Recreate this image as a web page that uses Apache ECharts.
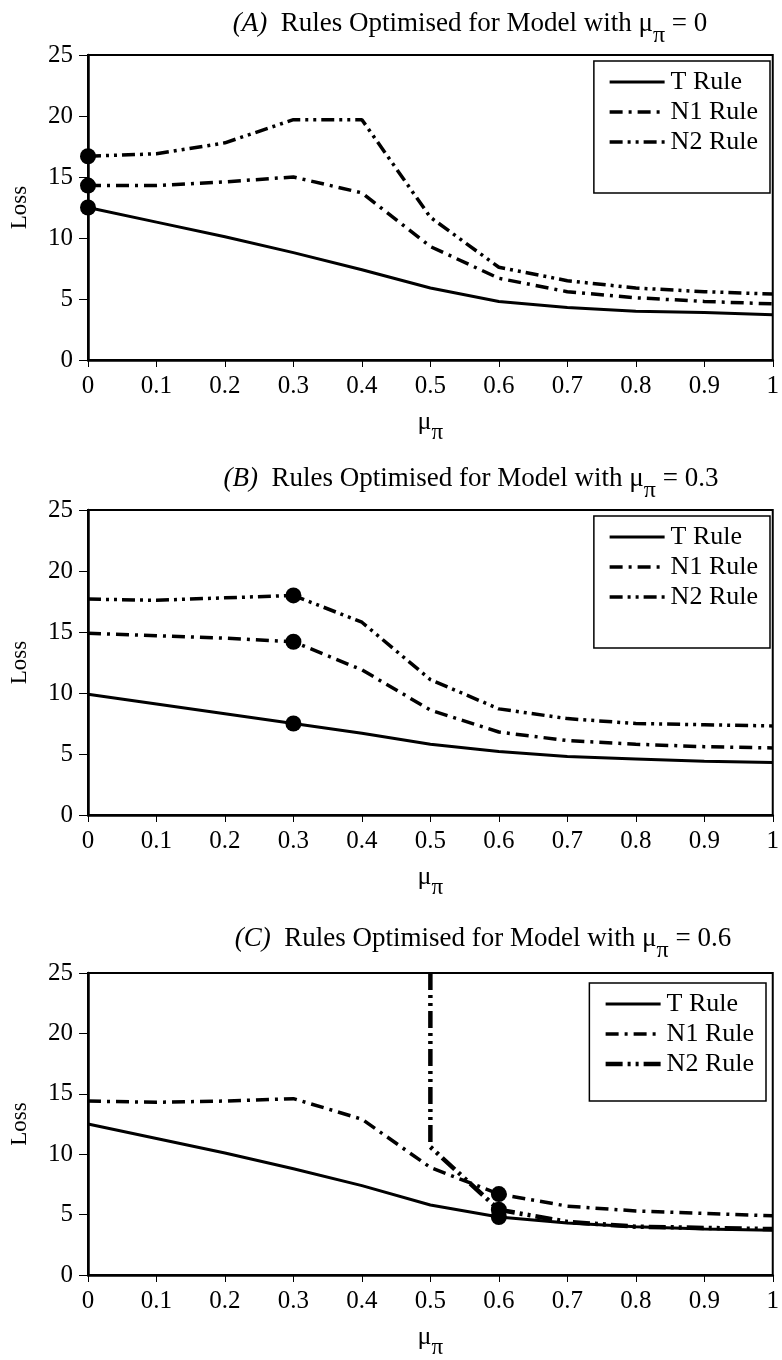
<!DOCTYPE html>
<html>
<head>
<meta charset="utf-8">
<script src="https://cdn.jsdelivr.net/npm/echarts@6/dist/echarts.min.js"></script>
<style>
html,body{margin:0;padding:0;background:#fff;}
#chart{width:782px;height:1360px;}
</style>
</head>
<body>
<div id="chart"></div>
<script>
// ---- data ----
const muValues = [0, 0.1, 0.2, 0.3, 0.4, 0.5, 0.6, 0.7, 0.8, 0.9, 1];
const yTicks = [0, 5, 10, 15, 20, 25];

// Panel A: rules optimised for mu = 0
const lossA_T  = [12.5, 11.3, 10.1, 8.8, 7.4, 5.9, 4.8, 4.3, 4.0, 3.9, 3.7];
const lossA_N1 = [14.3, 14.3, 14.6, 15.0, 13.7, 9.3, 6.7, 5.6, 5.1, 4.8, 4.6];
const lossA_N2 = [16.7, 16.9, 17.8, 19.7, 19.7, 11.7, 7.6, 6.5, 5.9, 5.6, 5.4];
const optIndexA = 0;

// Panel B: rules optimised for mu = 0.3
const lossB_T  = [9.9, 9.1, 8.3, 7.5, 6.7, 5.8, 5.2, 4.8, 4.6, 4.4, 4.3];
const lossB_N1 = [14.9, 14.7, 14.5, 14.2, 11.9, 8.6, 6.8, 6.1, 5.8, 5.6, 5.5];
const lossB_N2 = [17.7, 17.6, 17.8, 18.0, 15.8, 11.1, 8.7, 7.9, 7.5, 7.4, 7.3];
const optIndexB = 3;

// Panel C: rules optimised for mu = 0.6
const lossC_T  = [12.5, 11.3, 10.1, 8.8, 7.4, 5.8, 4.8, 4.3, 4.0, 3.8, 3.7];
const lossC_N1 = [14.4, 14.3, 14.4, 14.6, 12.9, 8.9, 6.7, 5.7, 5.3, 5.1, 4.9];
const muC_N2   = [0.5, 0.5, 0.6, 0.7, 0.8, 0.9, 1];
const lossC_N2 = [25, 10.6, 5.4, 4.4, 4.0, 3.9, 3.8]; // first point: off the top of the scale
const optIndexC = 6;

const titles = [
  ['(A)', 'Rules Optimised for Model with \u03bc', '\u03c0', ' = 0'],
  ['(B)', 'Rules Optimised for Model with \u03bc', '\u03c0', ' = 0.3'],
  ['(C)', 'Rules Optimised for Model with \u03bc', '\u03c0', ' = 0.6']
];
const seriesNames = ['T Rule', 'N1 Rule', 'N2 Rule'];

// ---- styling ----
const FONT = 'Liberation Serif';
const grids = [
  {left: 86, top: 55, width: 690, height: 305},
  {left: 85, top: 510, width: 691, height: 305},
  {left: 82, top: 973, width: 694, height: 309}
];
const titleTops = [5, 460, 920];
const titleCenters = [465, 466, 478];
const legends = [
  {top: 61, right: 12, bottomPad: 38},
  {top: 516, right: 12, bottomPad: 38},
  {top: 983, right: 16, bottomPad: 24}
];

const N1_DASH = [13, 6, 3, 6];
const N2_DASH = [13, 5, 3, 5, 3, 5];
const N2C_DASH = [17, 5, 3, 5, 3, 5];
const W_T = 3, W_N = 3.5, W_N2C = 4.5;

const pair = (xs, ys) => ys.map((v, i) => [xs[i], v]);

const richTitle = {
  it: {fontFamily: FONT, fontSize: 27, fontStyle: 'italic', fontWeight: 'normal', color: '#000', lineHeight: 30, verticalAlign: 'top'},
  r: {fontFamily: FONT, fontSize: 27, fontWeight: 'normal', color: '#000', lineHeight: 30, verticalAlign: 'top'},
  s: {fontFamily: FONT, fontSize: 24, fontWeight: 'normal', color: '#000', lineHeight: 24, padding: [14, 0, 0, 0], verticalAlign: 'top'}
};
const richName = {
  m: {fontFamily: FONT, fontSize: 26, color: '#000', lineHeight: 26, verticalAlign: 'top'},
  s: {fontFamily: FONT, fontSize: 23, color: '#000', lineHeight: 22, padding: [12, 0, 0, 0], verticalAlign: 'top'}
};

const legendStyles = [
  {type: 'solid', width: W_T},
  {type: N1_DASH, width: W_N},
  {type: N2_DASH, width: W_N}
];

const option = {
  animation: false,
  backgroundColor: '#fff',
  title: titles.map((t, i) => ({
    text: '{it|' + t[0] + '}{r|  ' + t[1] + '}{s|' + t[2] + '}{r|' + t[3] + '}',
    left: titleCenters[i], top: titleTops[i], textAlign: 'center',
    textStyle: {fontWeight: 'normal', rich: richTitle}
  })),
  legend: legends.map((lg, i) => ({
    top: lg.top, right: lg.right, orient: 'vertical', align: 'left',
    data: seriesNames.map((n, j) => ({
      name: n,
      lineStyle: Object.assign({color: '#000'},
        (i === 2 && j === 2) ? {type: N2C_DASH, width: W_N2C} : legendStyles[j])
    })),
    itemWidth: 55, itemHeight: 14, itemGap: 4,
    padding: [8, 12, lg.bottomPad, 14],
    borderColor: '#000', borderWidth: 1.5,
    selectedMode: false,
    itemStyle: {color: 'rgba(0,0,0,0)', borderColor: 'rgba(0,0,0,0)', borderWidth: 0},
    textStyle: {fontFamily: FONT, fontSize: 26, color: '#000', padding: [0, 0, 0, 1]}
  })),
  grid: grids.map(g => Object.assign({show: true, borderColor: '#000', borderWidth: 2, backgroundColor: 'transparent'}, g)),
  xAxis: grids.map((g, i) => ({
    type: 'value', gridIndex: i, min: 0, max: 1, interval: 0.1,
    name: '{m|\u03bc}{s|\u03c0}', nameLocation: 'middle', nameGap: 49,
    nameTextStyle: {rich: richName},
    axisLine: {lineStyle: {color: '#000', width: 2.5}},
    axisTick: {show: true, inside: false, length: 7, lineStyle: {color: '#000', width: 1}},
    axisLabel: {fontFamily: FONT, fontSize: 25, color: '#000', margin: 14},
    splitLine: {show: false}
  })),
  yAxis: grids.map((g, i) => ({
    type: 'value', gridIndex: i, min: yTicks[0], max: yTicks[yTicks.length - 1], interval: 5,
    name: 'Loss', nameLocation: 'middle', nameGap: 57, nameRotate: 90,
    nameTextStyle: {fontFamily: FONT, fontSize: 23, color: '#000'},
    axisLine: {show: true, lineStyle: {color: '#000', width: 2.5}},
    axisTick: {show: true, inside: false, length: 9, lineStyle: {color: '#000', width: 1}},
    axisLabel: {fontFamily: FONT, fontSize: 25, color: '#000', margin: 15},
    splitLine: {show: false}
  })),
  series: []
};

function lineSeries(name, idx, data, type, width) {
  return {
    name: name, type: 'line', xAxisIndex: idx, yAxisIndex: idx,
    data: data, symbol: 'none', smooth: false, clip: true,
    lineStyle: {color: '#000', width: width, type: type},
    itemStyle: {color: '#000'}
  };
}
function dotSeries(idx, pts) {
  return {
    type: 'scatter', xAxisIndex: idx, yAxisIndex: idx, data: pts,
    symbol: 'circle', symbolSize: 16, clip: false, z: 5,
    itemStyle: {color: '#000', opacity: 1}
  };
}

const panels = [
  {T: lossA_T, N1: lossA_N1, N2: pair(muValues, lossA_N2), N2raw: lossA_N2, opt: optIndexA},
  {T: lossB_T, N1: lossB_N1, N2: pair(muValues, lossB_N2), N2raw: lossB_N2, opt: optIndexB},
  {T: lossC_T, N1: lossC_N1, N2: pair(muC_N2, lossC_N2), opt: optIndexC}
];
panels.forEach((p, i) => {
  option.series.push(lineSeries('T Rule', i, pair(muValues, p.T), 'solid', W_T));
  option.series.push(lineSeries('N1 Rule', i, pair(muValues, p.N1), N1_DASH, W_N));
  option.series.push(lineSeries('N2 Rule', i, p.N2, i === 2 ? N2C_DASH : N2_DASH, i === 2 ? W_N2C : W_N));
  const k = p.opt;
  const pts = [[muValues[k], p.T[k]], [muValues[k], p.N1[k]]];
  if (i < 2) pts.push([muValues[k], p.N2raw[k]]);
  else pts.push([muC_N2[2], lossC_N2[2]]);
  option.series.push(dotSeries(i, pts));
});

const chart = echarts.init(document.getElementById('chart'), null, {renderer: 'canvas'});
chart.setOption(option);
</script>
</body>
</html>
